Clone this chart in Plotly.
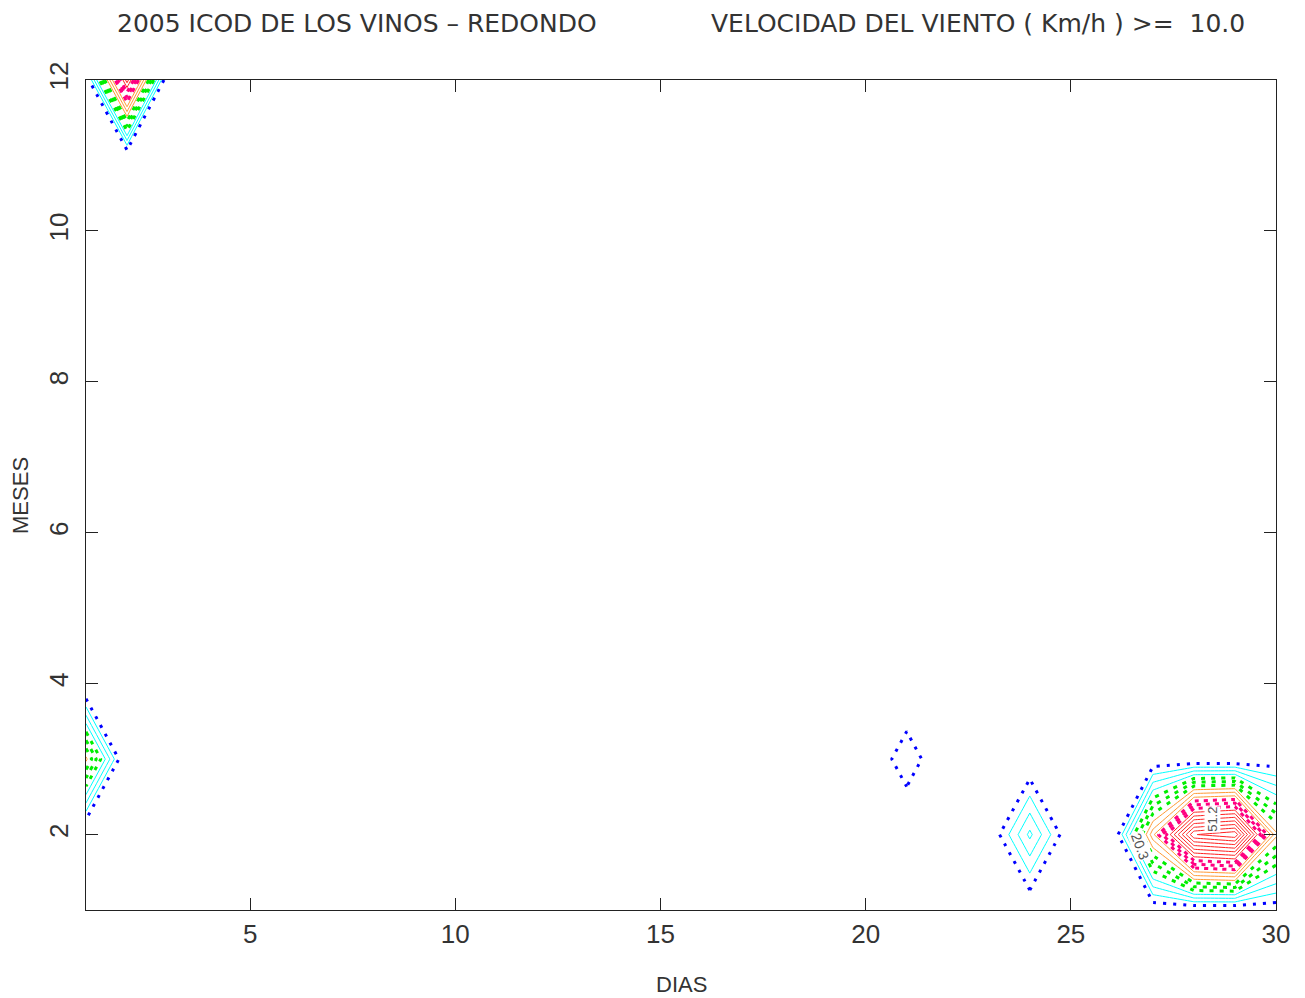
import plotly.graph_objects as go

# ---------------- data ----------------
days = list(range(1, 31))
months = list(range(1, 13))

x_ticks = [5, 10, 15, 20, 25, 30]
y_ticks = [2, 4, 6, 8, 10, 12]

# wind speed (km/h) per day, one list per month
m01 = [5, 5, 5, 5, 5,  5, 5, 5, 5, 5,  5, 5, 5, 5, 5,  5, 5, 5, 5, 5,
       5, 5, 5, 6.0, 5,  5.0, 6.7, 5.9, 5.7, 7.2]
m02 = [3.8, 5, 5, 5, 5,  5, 5, 5, 5, 5,  5, 5, 5, 5, 5,  5, 5, 5, 5, 5,
       6.0, 5, 6.0, 21.2, 6.0,  4.7, 39.8, 75.0, 78.0, 35.0]
m03 = [35.0, 3.8, 5, 5, 5,  5, 5, 5, 5, 5,  5, 5, 5, 5, 5,  5, 5, 5, 5, 6.0,
       12.3, 6.0, 5, 6.0, 5,  5, 6.7, 6.0, 5.7, 7.2]
m04 = [3.8, 5, 5, 5, 5,  5, 5, 5, 5, 5,  5, 5, 5, 5, 5,  5, 5, 5, 5, 5,
       6.0, 5, 5, 5, 5,  5, 5, 5, 5, 5]
m05 = [5, 5, 5, 5, 5,  5, 5, 5, 5, 5,  5, 5, 5, 5, 5,  5, 5, 5, 5, 5,
       5, 5, 5, 5, 5,  5, 5, 5, 5, 5]
m06 = [5, 5, 5, 5, 5,  5, 5, 5, 5, 5,  5, 5, 5, 5, 5,  5, 5, 5, 5, 5,
       5, 5, 5, 5, 5,  5, 5, 5, 5, 5]
m07 = [5, 5, 5, 5, 5,  5, 5, 5, 5, 5,  5, 5, 5, 5, 5,  5, 5, 5, 5, 5,
       5, 5, 5, 5, 5,  5, 5, 5, 5, 5]
m08 = [5, 5, 5, 5, 5,  5, 5, 5, 5, 5,  5, 5, 5, 5, 5,  5, 5, 5, 5, 5,
       5, 5, 5, 5, 5,  5, 5, 5, 5, 5]
m09 = [5, 5, 5, 5, 5,  5, 5, 5, 5, 5,  5, 5, 5, 5, 5,  5, 5, 5, 5, 5,
       5, 5, 5, 5, 5,  5, 5, 5, 5, 5]
m10 = [5, 5, 5, 5, 5,  5, 5, 5, 5, 5,  5, 5, 5, 5, 5,  5, 5, 5, 5, 5,
       5, 5, 5, 5, 5,  5, 5, 5, 5, 5]
m11 = [5, 6.2, 5, 5, 5,  5, 5, 5, 5, 5,  5, 5, 5, 5, 5,  5, 5, 5, 5, 5,
       5, 5, 5, 5, 5,  5, 5, 5, 5, 5]
m12 = [6.2, 60.0, 4.4, 5, 5,  5, 5, 5, 5, 5,  5, 5, 5, 5, 5,  5, 5, 5, 5, 5,
       5, 5, 5, 5, 5,  5, 5, 5, 5, 5]

z = [m01, m02, m03, m04, m05, m06, m07, m08, m09, m10, m11, m12]

# contour levels: threshold 10.0, step such that the 4th level is 20.3
threshold = 10.0
step = 10.3 / 3

# (first level index, last level index, colour, width, dash)
groups = [
    (0, 0, "#0000ff", 3, "3px,7px"),
    (1, 3, "#00ffff", 1, "solid"),
    (4, 6, "#00ee00", 3, "4px,6px"),
    (7, 9, "#ff9933", 1, "solid"),
    (10, 12, "#ff0080", 3, "4px,5px"),
    (13, 20, "#ff2020", 1, "solid"),
]

fig = go.Figure()
for k0, k1, col, w, dash in groups:
    start = threshold + k0 * step
    end = threshold + k1 * step + 0.5 * step
    fig.add_trace(go.Contour(
        x=days, y=months, z=z,
        autocontour=False,
        contours=dict(start=start, end=end, size=step, coloring="none", showlabels=False),
        line=dict(color=col, width=w, dash=dash, smoothing=0),
        showscale=False, hoverinfo="skip",
    ))

font_family = "Liberation Sans, Arial, sans-serif"
title_family = "DejaVu Sans, sans-serif"
txt_col = "#333333"

fig.update_layout(
    width=1297, height=990,
    margin=dict(l=78, r=29, t=72, b=88),
    paper_bgcolor="white", plot_bgcolor="white",
    showlegend=False,
    font=dict(family=font_family, color=txt_col),
    xaxis=dict(
        range=[1, 30], tickvals=x_ticks, ticks="inside", ticklen=12, tickcolor="#222",
        showline=True, linecolor="#222", linewidth=1, mirror="ticks",
        showgrid=False, zeroline=False,
        tickfont=dict(size=26, color=txt_col), ticklabelstandoff=1,
    ),
    yaxis=dict(
        range=[1, 12], tickvals=y_ticks, ticks="inside", ticklen=12, tickcolor="#222",
        showline=True, linecolor="#222", linewidth=1, mirror="ticks",
        showgrid=False, zeroline=False, tickangle=-90,
        tickfont=dict(size=26, color=txt_col), ticklabelstandoff=7,
    ),
    annotations=[
        dict(text="2005 ICOD DE LOS VINOS \u2013 REDONDO", xref="paper", yref="paper",
             x=0.0244, y=1.0675, xanchor="left", yanchor="middle", showarrow=False,
             font=dict(size=25, color=txt_col, family=title_family)),
        dict(text="VELOCIDAD DEL VIENTO ( Km/h ) >=  10.0", xref="paper", yref="paper",
             x=0.9756, y=1.0675, xanchor="right", yanchor="middle", showarrow=False,
             font=dict(size=25, color=txt_col, family=title_family)),
        dict(text="DIAS", xref="paper", yref="paper", x=0.5, y=-0.09,
             xanchor="center", yanchor="middle", showarrow=False,
             font=dict(size=22, color=txt_col)),
        dict(text="MESES", xref="paper", yref="paper", x=-0.0555, y=0.5,
             xanchor="center", yanchor="middle", showarrow=False, textangle=-90,
             font=dict(size=22, color=txt_col)),
        dict(text="20.3", x=26.69, y=1.85, showarrow=False, textangle=70,
             font=dict(size=14, color="#555"), bgcolor="white", borderpad=0),
        dict(text="51.2", x=28.45, y=2.2, showarrow=False, textangle=-90,
             font=dict(size=13, color="#555"), bgcolor="white", borderpad=0),
    ],
)

fig.write_html("out.html")
